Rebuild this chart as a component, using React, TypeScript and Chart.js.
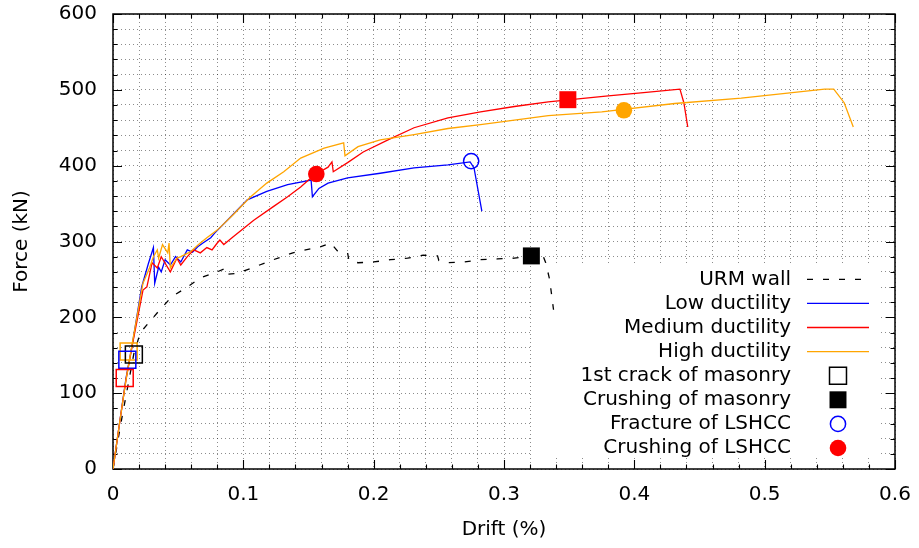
import React, { useEffect, useRef } from 'react';
import { Chart, registerables } from 'chart.js';

Chart.register(...registerables);

// ---------- data ----------
const xTickLabels = ['0', '0.1', '0.2', '0.3', '0.4', '0.5', '0.6'];
const yTickLabels = ['0', '100', '200', '300', '400', '500', '600'];

const seriesLabels = [
  'URM wall',
  'Low ductility',
  'Medium ductility',
  'High ductility',
  '1st crack of masonry',
  'Crushing of masonry',
  'Fracture of LSHCC',
  'Crushing of LSHCC',
];

const urmDrift = [0, 0.004, 0.007, 0.012, 0.016, 0.021, 0.028, 0.036, 0.045, 0.057, 0.067, 0.08, 0.087, 0.088, 0.095, 0.108, 0.123, 0.138, 0.145, 0.159, 0.167, 0.172, 0.18, 0.181, 0.188, 0.2, 0.213, 0.226, 0.238, 0.249, 0.25, 0.257, 0.269, 0.282, 0.295, 0.308, 0.322, 0.33, 0.332, 0.335, 0.338];
const urmForce = [0, 40, 69, 115, 152, 180, 194, 210, 227, 240, 252, 260, 265, 257, 258, 266, 276, 285, 288, 293, 298, 288, 285, 275, 272, 273, 276, 278, 282, 281, 275, 272, 273, 276, 277, 278, 281, 281, 272, 250, 210];

const lowDrift = [0, 0.005, 0.01, 0.015, 0.022, 0.027, 0.031, 0.032, 0.035, 0.037, 0.04, 0.044, 0.048, 0.052, 0.057, 0.061, 0.065, 0.069, 0.075, 0.078, 0.09, 0.103, 0.118, 0.134, 0.152, 0.153, 0.158, 0.165, 0.18, 0.205, 0.231, 0.257, 0.274, 0.277, 0.283];
const lowForce = [0, 60, 120, 166, 240, 270, 292, 245, 266, 260, 276, 269, 280, 273, 289, 286, 293, 298, 305, 311, 332, 355, 366, 375, 381, 359, 370, 377, 384, 390, 397, 401, 405, 397, 340];

const medDrift = [0, 0.005, 0.01, 0.015, 0.023, 0.026, 0.03, 0.034, 0.037, 0.044, 0.049, 0.052, 0.057, 0.062, 0.067, 0.072, 0.076, 0.08, 0.082, 0.085, 0.092, 0.108, 0.123, 0.134, 0.144, 0.15, 0.156, 0.165, 0.168, 0.169, 0.18, 0.192, 0.211, 0.231, 0.257, 0.282, 0.308, 0.334, 0.357, 0.38, 0.405, 0.435, 0.438, 0.441];
const medForce = [0, 60, 118, 165, 236, 240, 272, 265, 280, 260, 278, 269, 280, 289, 285, 292, 289, 298, 302, 296, 306, 328, 346, 359, 372, 381, 389, 398, 405, 392, 404, 418, 434, 450, 463, 471, 478, 484, 488, 492, 496, 501, 483, 451];

const highDrift = [0, 0.005, 0.01, 0.015, 0.023, 0.028, 0.031, 0.034, 0.035, 0.038, 0.042, 0.043, 0.044, 0.049, 0.052, 0.059, 0.067, 0.072, 0.08, 0.092, 0.105, 0.118, 0.131, 0.144, 0.162, 0.177, 0.178, 0.188, 0.205, 0.231, 0.257, 0.282, 0.308, 0.334, 0.375, 0.431, 0.482, 0.546, 0.553, 0.561, 0.568];
const highForce = [0, 60, 118, 168, 245, 265, 280, 289, 278, 296, 285, 298, 265, 278, 280, 286, 298, 305, 315, 335, 358, 377, 392, 410, 423, 430, 413, 425, 434, 441, 449, 454, 460, 466, 471, 482, 489, 501, 501, 483, 451];

// markers: order high, URM, low, medium
const crackDrift = [0.012, 0.016, 0.011, 0.009];
const crackForce = [155, 151, 144, 120];
// URM, medium
const masonryCrushDrift = [0.321, 0.349];
const masonryCrushForce = [281, 487];
// low
const fractureDrift = [0.2748];
const fractureForce = [406];
// medium, high
const lshccCrushDrift = [0.156, 0.392];
const lshccCrushForce = [389, 473];

// ---------- helpers ----------
const FONT = "'DejaVu Sans', sans-serif";
const pts = (xs: number[], ys: number[]) => xs.map((x, i) => ({ x, y: ys[i] }));
const labelFor = (v: number, step: number, labels: string[]) => {
  const k = Math.round(v / step);
  return Math.abs(v - k * step) < step * 1e-6 ? labels[k] ?? '' : '';
};

const BLUE = '#0000ff';
const RED = '#ff0000';
const ORANGE = '#ffa500';
const BLACK = '#000000';

const framePlugin = {
  id: 'gnuFrame',
  beforeDatasetsDraw(chart: any) {
    const { ctx, chartArea: a, scales } = chart;
    ctx.save();
    // opaque key box
    ctx.fillStyle = '#ffffff';
    ctx.fillRect(a.right - 362, a.bottom - 205, 345, 193);
    // frame
    ctx.strokeStyle = BLACK;
    ctx.lineWidth = 1.5;
    ctx.strokeRect(a.left, a.top, a.right - a.left, a.bottom - a.top);
    // mirrored inward ticks
    ctx.lineWidth = 1.1;
    ctx.beginPath();
    const xs = scales.x;
    xs.ticks.forEach((t: any) => {
      const p = Math.round(xs.getPixelForValue(t.value)) + 0.5;
      const len = labelFor(t.value, 0.1, xTickLabels) !== '' ? 9 : 4.5;
      ctx.moveTo(p, a.bottom);
      ctx.lineTo(p, a.bottom - len);
      ctx.moveTo(p, a.top);
      ctx.lineTo(p, a.top + len);
    });
    const ys = scales.y;
    ys.ticks.forEach((t: any) => {
      const p = Math.round(ys.getPixelForValue(t.value)) + 0.5;
      const len = labelFor(t.value, 100, yTickLabels) !== '' ? 9 : 4.5;
      ctx.moveTo(a.left, p);
      ctx.lineTo(a.left + len, p);
      ctx.moveTo(a.right, p);
      ctx.lineTo(a.right - len, p);
    });
    ctx.stroke();
    ctx.restore();
  },
  afterDatasetsDraw(chart: any) {
    const { ctx, chartArea: a } = chart;
    const n = chart.data.datasets.length;
    ctx.save();
    chart.data.datasets.forEach((ds: any, i: number) => {
      const y = a.bottom - 21 - (n - 1 - i) * 24.1;
      ctx.font = `20px ${FONT}`;
      ctx.textAlign = 'right';
      ctx.textBaseline = 'middle';
      ctx.fillStyle = BLACK;
      ctx.fillText(ds.label, a.right - 104, y);
      const cx = a.right - 57;
      if (ds.showLine) {
        ctx.strokeStyle = ds.borderColor;
        ctx.lineWidth = ds.borderWidth;
        ctx.setLineDash(ds.borderDash || []);
        ctx.beginPath();
        ctx.moveTo(cx - 31, y);
        ctx.lineTo(cx + 31, y);
        ctx.stroke();
        ctx.setLineDash([]);
      } else {
        const k = ds.keyStyle;
        ctx.lineWidth = 1.5;
        ctx.strokeStyle = k.color;
        ctx.fillStyle = k.color;
        ctx.beginPath();
        if (ds.pointStyle === 'rect') {
          const h = ds.pointRadius * Math.SQRT1_2;
          ctx.rect(cx - h, y - h, 2 * h, 2 * h);
        } else {
          ctx.arc(cx, y, ds.pointRadius, 0, Math.PI * 2);
        }
        if (k.filled) ctx.fill();
        else ctx.stroke();
      }
    });
    ctx.restore();
  },
};

export default function App() {
  const ref = useRef<HTMLCanvasElement | null>(null);

  useEffect(() => {
    if (!ref.current) return;
    Chart.defaults.font.family = FONT;
    const line = (label: string, xs: number[], ys: number[], color: string, order: number, dash?: number[]) => ({
      label,
      data: pts(xs, ys),
      showLine: true,
      borderColor: color,
      backgroundColor: color,
      borderWidth: 1.3,
      borderDash: dash || [],
      pointRadius: 0,
      pointHoverRadius: 0,
      fill: false,
      tension: 0,
      order,
    });
    const chart = new Chart(ref.current, {
      type: 'scatter',
      data: {
        datasets: [
          line(seriesLabels[0], urmDrift, urmForce, BLACK, 4, [6, 10]),
          line(seriesLabels[1], lowDrift, lowForce, BLUE, 3),
          line(seriesLabels[2], medDrift, medForce, RED, 2),
          line(seriesLabels[3], highDrift, highForce, ORANGE, 1),
          {
            label: seriesLabels[4],
            data: pts(crackDrift, crackForce),
            showLine: false,
            pointStyle: 'rect',
            pointRadius: 12,
            pointBorderWidth: 1.5,
            pointBorderColor: [ORANGE, BLACK, BLUE, RED],
            pointBackgroundColor: 'rgba(0,0,0,0)',
            keyStyle: { color: BLACK, filled: false },
            order: 0,
          } as any,
          {
            label: seriesLabels[5],
            data: pts(masonryCrushDrift, masonryCrushForce),
            showLine: false,
            pointStyle: 'rect',
            pointRadius: 12,
            pointBorderWidth: 0,
            pointBorderColor: [BLACK, RED],
            pointBackgroundColor: [BLACK, RED],
            keyStyle: { color: BLACK, filled: true },
            order: 0,
          } as any,
          {
            label: seriesLabels[6],
            data: pts(fractureDrift, fractureForce),
            showLine: false,
            pointStyle: 'circle',
            pointRadius: 7.6,
            pointBorderWidth: 1.5,
            pointBorderColor: [BLUE],
            pointBackgroundColor: 'rgba(0,0,0,0)',
            keyStyle: { color: BLUE, filled: false },
            order: 0,
          } as any,
          {
            label: seriesLabels[7],
            data: pts(lshccCrushDrift, lshccCrushForce),
            showLine: false,
            pointStyle: 'circle',
            pointRadius: 8.3,
            pointBorderWidth: 0,
            pointBorderColor: [RED, ORANGE],
            pointBackgroundColor: [RED, ORANGE],
            keyStyle: { color: RED, filled: true },
            order: 0,
          } as any,
        ],
      },
      options: {
        animation: false,
        responsive: false,
        devicePixelRatio: 1,
        events: [],
        layout: { padding: { top: 14, right: 24, left: 0, bottom: 0 } },
        plugins: {
          legend: { display: false },
          tooltip: { enabled: false },
        },
        scales: {
          x: {
            type: 'linear',
            min: 0,
            max: 0.6,
            afterFit: (s: any) => {
              s.height = 79;
              s.paddingLeft = 0;
              s.paddingRight = 0;
              s.paddingTop = 0;
              s.paddingBottom = 0;
            },
            grid: { color: 'rgba(0,0,0,0.45)', lineWidth: 1, drawTicks: false },
            border: { display: false, dash: [1, 3] },
            ticks: {
              stepSize: 0.02,
              autoSkip: false,
              maxRotation: 0,
              padding: 14,
              color: BLACK,
              font: { size: 20, family: FONT },
              callback: (v: any) => labelFor(Number(v), 0.1, xTickLabels),
            },
            title: {
              display: true,
              text: 'Drift (%)',
              color: BLACK,
              font: { size: 20, family: FONT },
              padding: { top: 0, bottom: 6 },
            },
          },
          y: {
            type: 'linear',
            min: 0,
            max: 600,
            afterFit: (s: any) => {
              s.width = 113;
              s.paddingLeft = 0;
              s.paddingRight = 0;
              s.paddingTop = 0;
              s.paddingBottom = 0;
            },
            grid: { color: 'rgba(0,0,0,0.45)', lineWidth: 1, drawTicks: false },
            border: { display: false, dash: [1, 3] },
            ticks: {
              stepSize: 20,
              autoSkip: false,
              padding: 16,
              color: BLACK,
              font: { size: 20, family: FONT },
              callback: (v: any) => labelFor(Number(v), 100, yTickLabels),
            },
            title: {
              display: true,
              text: 'Force (kN)',
              color: BLACK,
              font: { size: 20, family: FONT },
              padding: { top: 10, bottom: 0 },
            },
          },
        },
      },
      plugins: [framePlugin],
    } as any);
    return () => chart.destroy();
  }, []);

  return (
    <div style={{ position: 'absolute', left: 0, top: 0, width: 919, height: 548, background: '#fff' }}>
      <canvas ref={ref} width={919} height={548} style={{ display: 'block', width: 919, height: 548 }} />
    </div>
  );
}
